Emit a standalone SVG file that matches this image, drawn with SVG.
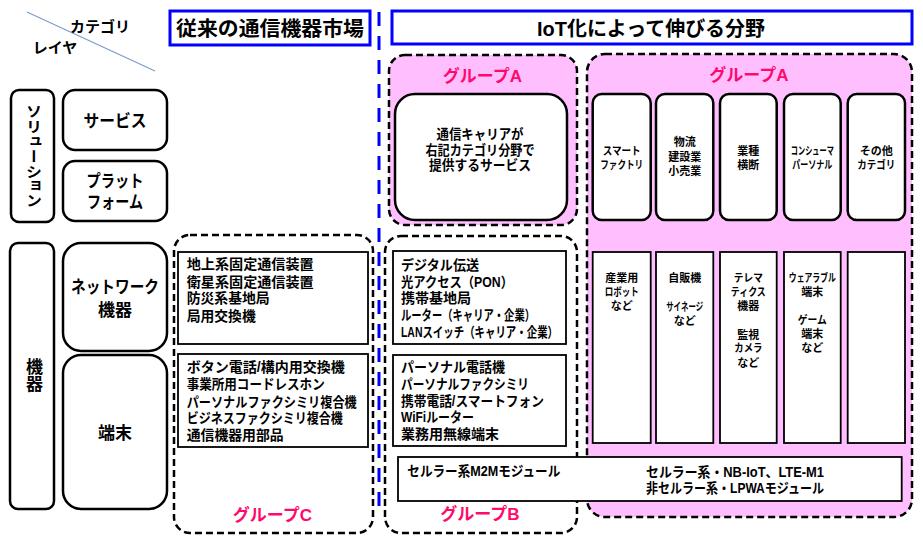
<svg xmlns="http://www.w3.org/2000/svg" width="923" height="544" viewBox="0 0 923 544">
<style>
text{font-family:"Liberation Sans","Noto Sans CJK JP",sans-serif;font-weight:700;fill:#000;dominant-baseline:central}
.m{text-anchor:middle}
.g{fill:#ff0a6c;font-size:17px;text-anchor:middle}
.box{fill:#fff;stroke:#000;stroke-width:2.5}
.sq{fill:#fff;stroke:#000;stroke-width:1.8}
.dash{fill:none;stroke:#000;stroke-width:2.5;stroke-dasharray:7 4}
.pink{fill:#ffbfff;stroke:#000;stroke-width:2.5;stroke-dasharray:7 4}
.hdr{fill:#fff;stroke:#0000ff;stroke-width:3}
.s14{font-size:14px}
.s11{font-size:11px;text-anchor:middle}
.s17{font-size:17px;text-anchor:middle}
</style>
<rect width="923" height="544" fill="#fff"/>

<g id="connectors">
  <line x1="27" y1="12" x2="155" y2="71" stroke="#7a9cc8" stroke-width="1.2"/>
  <line x1="379" y1="12" x2="379" y2="513" stroke="#0000ff" stroke-width="3" stroke-dasharray="14 10"/>
</g>

<g id="corner-labels">
  <text x="100" y="26" class="m" font-size="15">カテゴリ</text>
  <text x="55" y="47" class="m" font-size="15">レイヤ</text>
</g>

<g id="header-traditional">
  <rect x="170" y="11" width="200" height="34" class="hdr"/>
  <text x="270" y="29" class="m" font-size="20" textLength="188" lengthAdjust="spacingAndGlyphs">従来の通信機器市場</text>
</g>
<g id="header-iot">
  <rect x="392" y="11" width="520" height="33" class="hdr"/>
  <text x="651" y="29" class="m" font-size="20" textLength="228" lengthAdjust="spacingAndGlyphs">IoT化によって伸びる分野</text>
</g>

<g id="layer-solution">
  <rect x="11" y="90" width="43" height="132" rx="8" class="box"/>
  <text x="32.5" y="156" class="m" font-size="16" style="writing-mode:vertical-rl" textLength="104" lengthAdjust="spacingAndGlyphs">ソリューション</text>
</g>
<g id="layer-service">
  <rect x="63" y="90" width="104" height="60" rx="12" class="box"/>
  <text x="115" y="121" class="s17" textLength="63" lengthAdjust="spacingAndGlyphs">サービス</text>
</g>
<g id="layer-platform">
  <rect x="63" y="161" width="104" height="60" rx="12" class="box"/>
  <text class="s17"><tspan x="115" y="181" textLength="57" lengthAdjust="spacingAndGlyphs">プラット</tspan><tspan x="115" y="201.5" textLength="56" lengthAdjust="spacingAndGlyphs">フォーム</tspan></text>
</g>
<g id="layer-device">
  <rect x="10" y="243" width="44" height="266" rx="8" class="box"/>
  <text x="32.5" y="375" class="m" font-size="17" style="writing-mode:vertical-rl">機器</text>
</g>
<g id="layer-network">
  <rect x="63" y="243" width="104" height="108" rx="18" class="box"/>
  <text class="s17"><tspan x="115" y="286.5" textLength="88" lengthAdjust="spacingAndGlyphs">ネットワーク</tspan><tspan x="115" y="310">機器</tspan></text>
</g>
<g id="layer-terminal">
  <rect x="63" y="355" width="104" height="154" rx="18" class="box"/>
  <text x="115" y="433" class="s17">端末</text>
</g>

<g id="group-c">
  <rect x="174" y="235" width="199" height="298" rx="16" class="dash"/>
  <rect x="178" y="252" width="190" height="92" class="sq"/>
  <text class="s14"><tspan x="186.7" y="264.3" textLength="127" lengthAdjust="spacingAndGlyphs">地上系固定通信装置</tspan><tspan x="186.7" y="281.7" textLength="127" lengthAdjust="spacingAndGlyphs">衛星系固定通信装置</tspan><tspan x="186.7" y="298.3" textLength="83" lengthAdjust="spacingAndGlyphs">防災系基地局</tspan><tspan x="186.7" y="315.7" textLength="69" lengthAdjust="spacingAndGlyphs">局用交換機</tspan></text>
  <rect x="178" y="354" width="190" height="93" class="sq"/>
  <text class="s14"><tspan x="186.7" y="367.3" textLength="158" lengthAdjust="spacingAndGlyphs">ボタン電話/構内用交換機</tspan><tspan x="186.7" y="384.3" textLength="138" lengthAdjust="spacingAndGlyphs">事業所用コードレスホン</tspan><tspan x="186.7" y="401.7" textLength="170" lengthAdjust="spacingAndGlyphs">パーソナルファクシミリ複合機</tspan><tspan x="186.7" y="418.3" textLength="156" lengthAdjust="spacingAndGlyphs">ビジネスファクシミリ複合機</tspan><tspan x="186.7" y="435" textLength="97" lengthAdjust="spacingAndGlyphs">通信機器用部品</tspan></text>
  <text x="272.5" y="515" class="g">グループC</text>
</g>

<g id="group-a-service">
  <rect x="389" y="55" width="188" height="170" rx="16" class="pink"/>
  <text x="482.5" y="76.5" class="g">グループA</text>
  <rect x="395" y="94" width="172" height="126" rx="20" class="box"/>
  <text class="m" font-size="13.5"><tspan x="480" y="134.3" textLength="87" lengthAdjust="spacingAndGlyphs">通信キャリアが</tspan><tspan x="480" y="150" textLength="109" lengthAdjust="spacingAndGlyphs">右記カテゴリ分野で</tspan><tspan x="480" y="165" textLength="102" lengthAdjust="spacingAndGlyphs">提供するサービス</tspan></text>
</g>

<g id="group-b">
  <rect x="385" y="236" width="192" height="297" rx="16" class="dash"/>
  <rect x="393" y="251" width="173" height="93" class="sq"/>
  <text class="s14"><tspan x="401" y="265" textLength="78" lengthAdjust="spacingAndGlyphs">デジタル伝送</tspan><tspan x="401" y="281.7" textLength="112" lengthAdjust="spacingAndGlyphs">光アクセス（PON）</tspan><tspan x="401" y="298.3" textLength="70" lengthAdjust="spacingAndGlyphs">携帯基地局</tspan><tspan x="401" y="315" textLength="134" lengthAdjust="spacingAndGlyphs">ルーター（キャリア・企業）</tspan><tspan x="401" y="331.7" textLength="157" lengthAdjust="spacingAndGlyphs">LANスイッチ（キャリア・企業）</tspan></text>
  <rect x="393" y="355" width="173" height="91" class="sq"/>
  <text class="s14"><tspan x="401" y="367.3" textLength="104" lengthAdjust="spacingAndGlyphs">パーソナル電話機</tspan><tspan x="401" y="384" textLength="128" lengthAdjust="spacingAndGlyphs">パーソナルファクシミリ</tspan><tspan x="401" y="400.7" textLength="143" lengthAdjust="spacingAndGlyphs">携帯電話/スマートフォン</tspan><tspan x="401" y="417.3" textLength="73" lengthAdjust="spacingAndGlyphs">WiFiルーター</tspan><tspan x="401" y="434" textLength="98" lengthAdjust="spacingAndGlyphs">業務用無線端末</tspan></text>
  <text x="480" y="514" class="g">グループB</text>
</g>

<g id="group-a-categories">
  <rect x="587" y="54" width="325" height="463" rx="18" class="pink"/>
  <text x="749" y="75" class="g">グループA</text>
  <g id="col-smart-factory">
    <rect x="592.7" y="94" width="58" height="126" rx="9" class="box"/>
    <text class="s11"><tspan x="621.7" y="150.7" textLength="38" lengthAdjust="spacingAndGlyphs">スマート</tspan><tspan x="621.7" y="165" textLength="43" lengthAdjust="spacingAndGlyphs">ファクトリ</tspan></text>
    <rect x="592.7" y="252" width="58" height="191" class="sq"/>
    <text class="s11"><tspan x="621.7" y="278.3">産業用</tspan><tspan x="621.7" y="292.3" textLength="34" lengthAdjust="spacingAndGlyphs">ロボット</tspan><tspan x="621.7" y="306">など</tspan></text>
  </g>
  <g id="col-logistics">
    <rect x="656" y="94" width="57.3" height="126" rx="9" class="box"/>
    <text class="s11"><tspan x="684.7" y="141.7">物流</tspan><tspan x="684.7" y="156.7">建設業</tspan><tspan x="684.7" y="171">小売業</tspan></text>
    <rect x="656" y="252" width="57.3" height="191" class="sq"/>
    <text class="s11"><tspan x="684.7" y="278.3">自販機</tspan><tspan x="684.7" y="306.5" textLength="37" lengthAdjust="spacingAndGlyphs">サイネージ</tspan><tspan x="684.7" y="320.5">など</tspan></text>
  </g>
  <g id="col-cross-industry">
    <rect x="720" y="94" width="56.7" height="126" rx="9" class="box"/>
    <text class="s11"><tspan x="748.3" y="150.7">業種</tspan><tspan x="748.3" y="165">横断</tspan></text>
    <rect x="720" y="252" width="56.7" height="191" class="sq"/>
    <text class="s11"><tspan x="748.3" y="278.3" textLength="29" lengthAdjust="spacingAndGlyphs">テレマ</tspan><tspan x="748.3" y="292.3" textLength="35" lengthAdjust="spacingAndGlyphs">ティクス</tspan><tspan x="748.3" y="306">機器</tspan><tspan x="748.3" y="334.5">監視</tspan><tspan x="748.3" y="348.3" textLength="28" lengthAdjust="spacingAndGlyphs">カメラ</tspan><tspan x="748.3" y="362.5">など</tspan></text>
  </g>
  <g id="col-consumer">
    <rect x="784" y="94" width="56.7" height="126" rx="9" class="box"/>
    <text class="s11"><tspan x="812.3" y="150.7" textLength="43" lengthAdjust="spacingAndGlyphs">コンシューマ</tspan><tspan x="812.3" y="165" textLength="40" lengthAdjust="spacingAndGlyphs">パーソナル</tspan></text>
    <rect x="784" y="252" width="56.7" height="191" class="sq"/>
    <text class="s11"><tspan x="812.3" y="278.3" textLength="47" lengthAdjust="spacingAndGlyphs">ウェアラブル</tspan><tspan x="812.3" y="292.3">端末</tspan><tspan x="812.3" y="320" textLength="29" lengthAdjust="spacingAndGlyphs">ゲーム</tspan><tspan x="812.3" y="334">端末</tspan><tspan x="812.3" y="348">など</tspan></text>
  </g>
  <g id="col-other">
    <rect x="847.7" y="94" width="57.3" height="126" rx="9" class="box"/>
    <text class="s11"><tspan x="876.3" y="150.7">その他</tspan><tspan x="876.3" y="165" textLength="38" lengthAdjust="spacingAndGlyphs">カテゴリ</tspan></text>
    <rect x="847.7" y="252" width="57.3" height="191" class="sq"/>
  </g>
</g>

<g id="module">
  <rect x="398" y="457" width="503.7" height="44" class="sq"/>
  <text x="407.3" y="471" class="s14" textLength="153" lengthAdjust="spacingAndGlyphs">セルラー系M2Mモジュール</text>
  <text class="s14"><tspan x="646" y="472.3" textLength="178" lengthAdjust="spacingAndGlyphs">セルラー系・NB-IoT、LTE-M1</tspan><tspan x="646" y="488.3" textLength="178" lengthAdjust="spacingAndGlyphs">非セルラー系・LPWAモジュール</tspan></text>
</g>
</svg>
